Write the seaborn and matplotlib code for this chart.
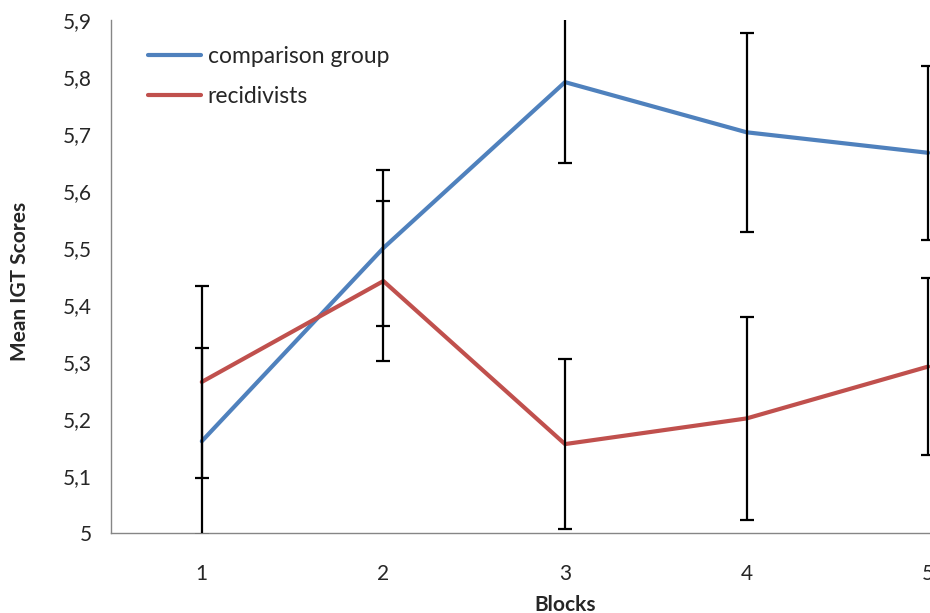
import numpy as np
import pandas as pd
import matplotlib
matplotlib.use("Agg")
import matplotlib.pyplot as plt
import matplotlib.ticker as mticker
import seaborn as sns

# Dane
blocks = [1, 2, 3, 4, 5]
comparison_mean = [5.161, 5.500, 5.791, 5.703, 5.667]
comparison_err = [0.164, 0.136, 0.142, 0.175, 0.153]
recidivist_mean = [5.265, 5.442, 5.156, 5.201, 5.292]
recidivist_err = [0.168, 0.140, 0.149, 0.178, 0.155]
series_names = ["comparison group", "recidivists"]
y_ticks = [5.0, 5.1, 5.2, 5.3, 5.4, 5.5, 5.6, 5.7, 5.8, 5.9]

_BLUE = "#4F81BD"
_RED = "#C0504D"
_AXIS = "#868686"

sns.set_style("white")
plt.rcParams["font.family"] = ["Lato", "DejaVu Sans"]

df = pd.DataFrame({
    "Blocks": blocks * 2,
    "score": comparison_mean + recidivist_mean,
    "group": [series_names[0]] * 5 + [series_names[1]] * 5,
})

fig = plt.figure(figsize=(9.3, 6.13), dpi=100)
# oś wychodzi poza prawą krawędź (jak w oryginale)
ax = fig.add_axes([111 / 930, 1 - 533 / 613, 908 / 930, (533 - 20) / 613])

sns.lineplot(
    data=df, x="Blocks", y="score", hue="group",
    palette=[_BLUE, _RED], linewidth=3, ax=ax, legend=True,
)

# słupki błędów
for means, errs in [(comparison_mean, comparison_err), (recidivist_mean, recidivist_err)]:
    ax.errorbar(
        blocks, means, yerr=errs, fmt="none",
        ecolor="black", elinewidth=1.6, capsize=5, capthick=1.6, zorder=3,
    )

ax.set_xlim(0.5, 5.5)
ax.set_ylim(5.0, 5.9)
ax.set_yticks(y_ticks)
ax.yaxis.set_major_formatter(
    mticker.FuncFormatter(lambda v, _: "5" if abs(v - 5) < 1e-9 else f"{v:.1f}".replace(".", ","))
)
ax.set_xticks(blocks)
ax.set_xticks([0.5, 1.5, 2.5, 3.5, 4.5, 5.5], minor=True)
ax.tick_params(axis="x", which="major", length=0, pad=22, labelsize=15)
ax.tick_params(axis="x", which="minor", length=6, color=_AXIS, width=1, direction="out")
ax.tick_params(axis="y", length=6, color=_AXIS, width=1, direction="out", pad=8, labelsize=15)

for side in ["top", "right"]:
    ax.spines[side].set_visible(False)
for side in ["left", "bottom"]:
    ax.spines[side].set_color(_AXIS)
    ax.spines[side].set_linewidth(1)

ax.set_xlabel("Blocks", fontsize=15, fontweight="bold", labelpad=8)
ax.set_ylabel("Mean IGT Scores", fontsize=15, fontweight="bold")
ax.yaxis.set_label_coords(-0.089, 0.49)

handles, labels = ax.get_legend_handles_labels()
ax.legend(
    handles, labels, loc="upper left", bbox_to_anchor=(0.018, 0.99),
    frameon=False, fontsize=16.5, handlelength=2.3, handletextpad=0.3,
    labelspacing=0.85,
)

fig.savefig("out.png", dpi=100)
